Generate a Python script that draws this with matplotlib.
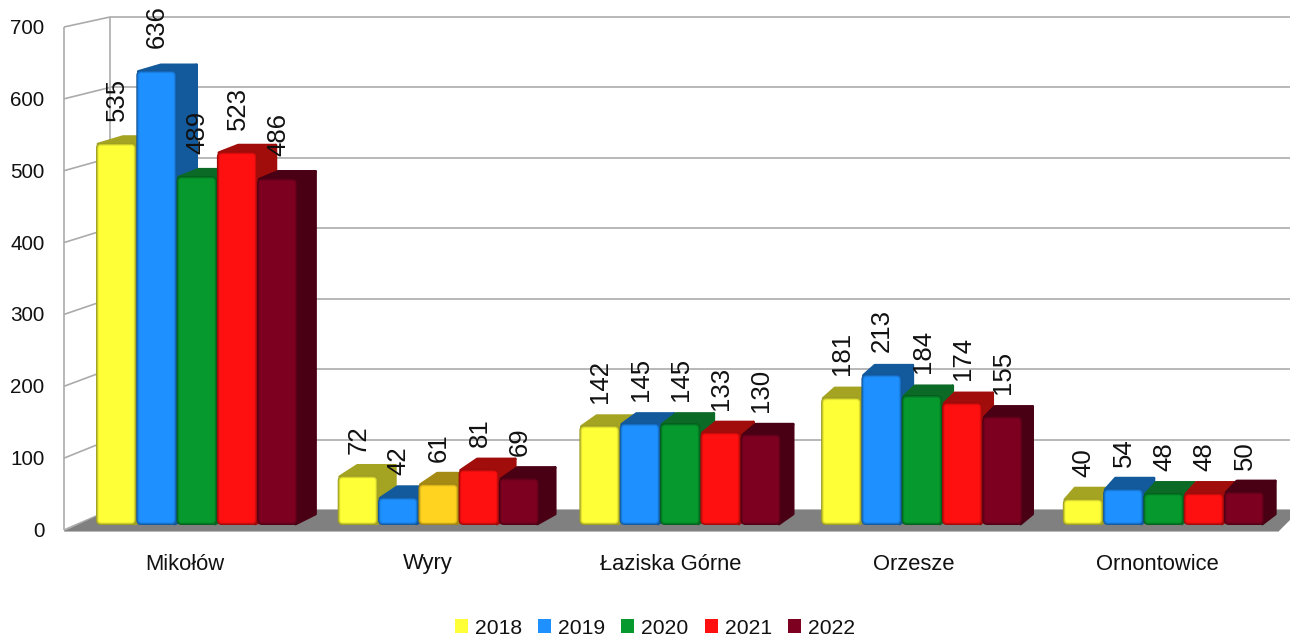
import numpy as np
import matplotlib
matplotlib.use("Agg")
import matplotlib.pyplot as plt
from matplotlib.patches import FancyBboxPatch, Polygon, Patch

plt.rcParams['font.family'] = ['Liberation Sans', 'DejaVu Sans']

# data
towns = ["Mikołów", "Wyry", "Łaziska Górne", "Orzesze", "Ornontowice"]
years = ["2018", "2019", "2020", "2021", "2022"]
v2018 = [535, 72, 142, 181, 40]
v2019 = [636, 42, 145, 213, 54]
v2020 = [489, 61, 145, 184, 48]
v2021 = [523, 81, 133, 174, 48]
v2022 = [486, 69, 130, 155, 50]
series = [v2018, v2019, v2020, v2021, v2022]
yticks = [0, 100, 200, 300, 400, 500, 600, 700]

# colours
front_cols = ["#FFFF38", "#1E90FF", "#069A2E", "#FF1010", "#7E0021"]
side_cols = ["#A5A322", "#135A9C", "#0A6A26", "#A00D0A", "#4A0014"]
# 2020 bar of Wyry has another colour in the original
odd_front = "#FFD320"
odd_side = "#A58A14"
grid_col = "#ABABAB"
floor_col = "#808080"

# scale: x axis in pixels, y axis in chart values
W, H = 1290, 637
ZERO = 530.0      # pixel row of value 0 on front plane
SCALE = 503 / 700  # pixels per unit on front plane
BACK_ZERO = 510.0
BACK_SCALE = 493 / 700


def up(n):
    return n / SCALE


def back_val(v):
    # value at the back wall expressed in front plane units
    return (ZERO - (BACK_ZERO - BACK_SCALE * v)) / SCALE


def mix(col, f):
    rgb = np.array(matplotlib.colors.to_rgb(col))
    return tuple(rgb * f)


fig = plt.figure(figsize=(W / 100, H / 100), dpi=100)
ax = fig.add_axes([0, 0, 1, 1])
ax.set_xlim(0, W)
ax.set_ylim((ZERO - H) / SCALE, ZERO / SCALE)
ax.axis("off")

# floor
floor = Polygon([(64, up(-1)), (1279, up(-1)), (1300, back_val(0)), (110, back_val(0))],
                closed=True, fc=floor_col, ec="none", zorder=1)
ax.add_patch(floor)

# walls
wall_kw = dict(color=grid_col, lw=1.2, zorder=0.5, solid_capstyle="butt")
ax.plot([110, 110], [back_val(0), back_val(700)], **wall_kw)
ax.plot([64, 64], [0, 700], **wall_kw)
ax.plot([64, 1279], [up(-1), up(-1)], **wall_kw)
for t in yticks:
    ax.plot([110, W], [back_val(t), back_val(t)], **wall_kw)
    ax.plot([64, 110], [t, back_val(t)], **wall_kw)
    ax.text(44.5, t - up(1.5), str(t), ha="right", va="center", fontsize=14.9, color="#111111")

# bars
group_start = 96.0
group_step = 241.7
bar_w = 40.3
base_lift = up(5)
top_lift = up(2.5)
depth_x = [96, 177, 297, 537, 795, 1023, 1262]
depth_dx = [27, 22, 20, 18, 14, 12, 13]

for g in range(len(towns)):
    for s in range(len(years)):
        v = series[s][g]
        fc, sc = front_cols[s], side_cols[s]
        if g == 1 and s == 2:
            fc, sc = odd_front, odd_side
        x0 = group_start + group_step * g + bar_w * s
        x1 = x0 + bar_w
        z = 3 + g + s * 0.1
        top = v + top_lift
        dy = up(12 - 0.0085 * v)
        dxl = np.interp(x0, depth_x, depth_dx)
        dxr = np.interp(x1, depth_x, depth_dx)
        # side and top faces, thick round edge gives the soft corners
        ax.add_patch(Polygon([(x1 - 2, top - up(1)), (x1 + dxr - 2, top + dy - up(1)), (x1 + dxr - 2, base_lift + up(11)), (x1 - 2, base_lift + up(1))],
                             closed=True, fc=sc, ec=sc, lw=2, joinstyle="round", zorder=z))
        ax.add_patch(Polygon([(x0 + 2, top - up(1)), (x1 - 2, top - up(1)), (x1 + dxr - 2, top + dy - up(1)), (x0 + dxl, top + dy - up(1))],
                             closed=True, fc=sc, ec=sc, lw=2, joinstyle="round", zorder=z))
        # front face, nested boxes give the bevel
        for inset, f in [(0, 0.6), (0.7, 0.72), (1.4, 0.84), (2.1, 0.94), (2.8, 1.0)]:
            box = FancyBboxPatch((x0 + inset, base_lift + up(inset)), bar_w - 2 * inset, top - base_lift - up(2 * inset),
                                 boxstyle="round,pad=0,rounding_size=%.1f" % max(5 - inset, 1),
                                 mutation_aspect=1 / SCALE, fc=mix(fc, f), ec="none", zorder=z + 0.01 + inset * 0.001)
            ax.add_patch(box)
        ax.annotate(str(v), (x0 + bar_w / 2 + 0.7, top), xytext=(0, 22 * 0.72), textcoords="offset points",
                    rotation=90, ha="center", va="bottom", fontsize=18.5, color="#111111", zorder=20)

# category labels
label_x0 = 185
label_step = 243
for i, name in enumerate(towns):
    ax.text(label_x0 + label_step * i, (ZERO - 564) / SCALE, name, ha="center", va="center",
            fontsize=15.8, color="#111111")

handles = [Patch(fc=c, ec="none", label=y) for c, y in zip(front_cols, years)]
ax.legend(handles=handles, ncol=5, loc="center", bbox_to_anchor=(655, (ZERO - 628) / SCALE),
          bbox_transform=ax.transData, frameon=False, fontsize=15.2, handlelength=0.62,
          handleheight=0.62, handletextpad=0.33, columnspacing=0.76, labelcolor="#111111",
          borderpad=0, borderaxespad=0)

fig.savefig("out.png", dpi=100)
